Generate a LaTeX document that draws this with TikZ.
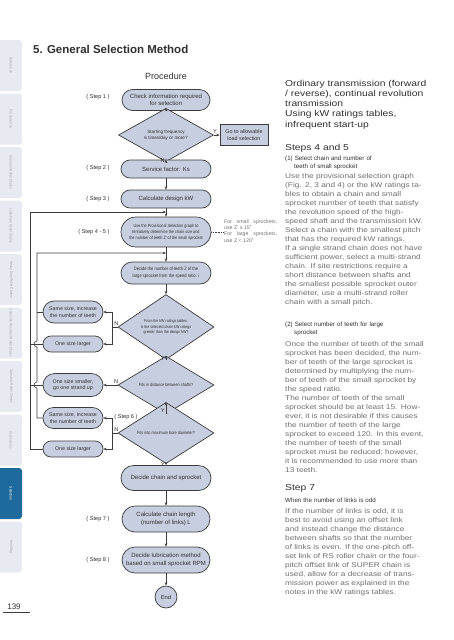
\documentclass[tikz,border=0pt]{standalone}
\usepackage{fontspec}
\setmainfont{Liberation Sans}
\newfontfamily\narrowfont[FakeStretch=0.85]{Liberation Sans}
\newfontfamily\widefont[FakeStretch=1.2]{Liberation Sans}
\usetikzlibrary{shapes.geometric,arrows.meta,calc}

\definecolor{boxfill}{HTML}{C6CEE0}
\definecolor{lineclr}{HTML}{3C3C3C}
\definecolor{tabfill}{HTML}{E7EAF0}
\definecolor{tabtext}{HTML}{A0A6B0}
\definecolor{tabsel}{HTML}{1F6A9C}
\definecolor{bodytext}{HTML}{707070}
\definecolor{headtext}{HTML}{303030}

\newcommand\fsz[2]{\fontsize{#1}{#2}\selectfont}
\newlength\colw
\setlength\colw{161pt}
\newcommand\jl[1]{\makebox[\colw][s]{#1}\\}

\tikzset{
  stad/.style 2 args={draw=lineclr, line width=0.7pt, fill=boxfill, rectangle, minimum height=#1, rounded corners=#2, inner sep=0pt, align=center, text=headtext, font=\fsz{6}{7.2}},
  decis/.style={draw=lineclr, line width=0.7pt, fill=boxfill, diamond, inner sep=0pt, align=center, text=headtext, font=\narrowfont\fsz{4.5}{5.4}},
  steplbl/.style={anchor=east, text=headtext, font=\fsz{5.6}{6.5}},
  yn/.style={text=headtext, font=\fsz{5.6}{6.5}, inner sep=1pt},
  flow/.style={draw=lineclr, line width=0.6pt},
  col/.style={anchor=base west, inner sep=0pt, align=left, text width=\colw},
  bodycol/.style={col, font=\widefont\fsz{6.9}{9}, text=bodytext},
  subcol/.style={col, font=\fsz{6.2}{8}, text=headtext},
  headcol/.style={col, font=\widefont\fsz{8.6}{10.3}, text=headtext},
}

\begin{document}
\begin{tikzpicture}[x=1pt, y=-1pt, >={Stealth[length=3.2pt,width=2.6pt]}]
\useasboundingbox (0,0) rectangle (453,640);
\fill[white] (0,0) rectangle (453,640);

% side tabs
\foreach \tabname [count=\i] in {Before Use,For Safe Use,Standard Roller Chains,Lube-Free Roller Chains,Heavy Duty Roller Chains,Corrosion Resistant Roller Chains,Specialty Roller Chains,Accessories,Selection,Handling}{
  \pgfmathsetmacro\ta{40+(\i-1)*53.5}
  \pgfmathsetmacro\tb{\ta+51}
  \ifnum\i=9 \def\tabclr{tabsel}\def\txtclr{white}\else\def\tabclr{tabfill}\def\txtclr{tabtext}\fi
  \fill[\tabclr, rounded corners=3pt] (-5,\ta) rectangle (22,\tb);
  \node[rotate=-90, text=\txtclr, font=\narrowfont\fsz{3.8}{4.5}] (tab\i) at (11,{(\ta+\tb)/2}) {\tabname};
}
\node[font=\fsz{8}{9}, text=headtext] (pg) at (14,607) {139};
\draw[lineclr, line width=0.4pt] (3,612.5) -- (30,612.5);

\node[anchor=base west, font=\bfseries\fsz{11.5}{13}, text=headtext, inner sep=0pt] (title) at (33,53) {5. General Selection Method};
\node[font=\fsz{9}{10}, text=headtext] (head) at (166,76) {Procedure};

% flow chart
\node[stad={21pt}{10.5pt}, minimum width=88pt] (chk) at (166,100) {Check information required\\for selection};
\node[decis, minimum width=95pt, minimum height=30pt, font=\fsz{4.6}{5.8}] (freq) at (166,135) {Starting frequency\\6 times/day or more?};
\node[draw=lineclr, line width=0.7pt, fill=boxfill, minimum width=48pt, minimum height=21pt, inner sep=0pt, align=center, text=headtext, font=\fsz{5.4}{6.4}] (goto) at (244,135) {Go to allowable\\load selection};
\node[stad={18pt}{9pt}, minimum width=90pt] (ks) at (166,169) {Service factor: Ks};
\node[stad={18pt}{9pt}, minimum width=90pt] (kw) at (166,199) {Calculate design kW};
\node[stad={30pt}{15pt}, minimum width=90pt, font=\narrowfont\fsz{4.5}{6}] (prov) at (166,232) {Use the Provisional Selection graph to\\tentatively determine the chain size and\\the number of teeth Z' of the small sprocket};
\node[stad={22pt}{11pt}, minimum width=90pt, font=\narrowfont\fsz{4.8}{6.6}] (bigz) at (166,273) {Decide the number of teeth Z of the\\large sprocket from the speed ratio: i};
\node[decis, minimum width=96pt, minimum height=49pt, font=\narrowfont\fsz{4.2}{5.4}] (rate) at (166,327) {From the kW ratings tables,\\is the selected chain kW ratings\\greater than the design kW?};
\node[decis, minimum width=96pt, minimum height=35pt] (dist) at (166,385) {Fits in distance between shafts?};
\node[decis, minimum width=96pt, minimum height=34pt] (bore) at (166,433) {Fits into maximum bore diameter?};
\node[stad={25pt}{12.5pt}, minimum width=90pt] (decide) at (166,478) {Decide chain and sprocket};
\node[stad={26pt}{13pt}, minimum width=88pt] (len) at (166,519) {Calculate chain length\\(number of links) L};
\node[stad={26pt}{13pt}, minimum width=88pt] (lube) at (166,560) {Decide lubrication method\\based on small sprocket RPM};
\node[draw=lineclr, line width=0.7pt, fill=boxfill, circle, minimum size=22pt, inner sep=0pt, text=headtext, font=\fsz{5.8}{6.8}] (fin) at (166,597) {End};

\node[stad={22pt}{11pt}, minimum width=60pt, font=\fsz{5.3}{6.4}] (incA) at (73,312) {Same size, increase\\the number of teeth};
\node[stad={16pt}{8pt}, minimum width=60pt, font=\fsz{5.3}{6.4}] (lgA) at (73,344) {One size larger};
\node[stad={23pt}{11.5pt}, minimum width=60pt, font=\fsz{5.3}{6.4}] (small) at (73,385) {One size smaller,\\go one strand up};
\node[stad={21pt}{10.5pt}, minimum width=60pt, font=\fsz{5.3}{6.4}] (incB) at (73,418) {Same size, increase\\the number of teeth};
\node[stad={16pt}{8pt}, minimum width=60pt, font=\fsz{5.3}{6.4}] (lgB) at (73,449) {One size larger};

\node[anchor=west, align=left, inner sep=0pt, text=bodytext, font=\fsz{5.2}{6.2}] (note) at (224,231) {\makebox[53pt][s]{For small sprockets,}\\use Z' ≥ 15\textsuperscript{†}\\\makebox[53pt][s]{For large sprockets,}\\use Z < 120\textsuperscript{†}};

\node[steplbl] (s1) at (113,97) {( Step 1 )};
\node[steplbl] (s2) at (113,168) {( Step 2 )};
\node[steplbl] (s3) at (113,199) {( Step 3 )};
\node[steplbl] (s45) at (113,232) {( Step 4 - 5 )};
\node[steplbl, anchor=center] (s6) at (126,417) {( Step 6 )};
\node[steplbl] (s7) at (113,519) {( Step 7 )};
\node[steplbl] (s8) at (113,560) {( Step 8 )};

\coordinate (brA) at (112,327);
\coordinate (brB) at (112,433);
\coordinate (outer) at (30,212);
\coordinate (inner) at (37,253);

\draw[flow,->] (chk) -- (freq);
\draw[flow,->] (freq) -- node[yn, left, pos=0.45] {N} (ks);
\draw[flow,->] (freq) -- node[yn, above, pos=0.2] {Y} (goto);
\draw[flow,->] (ks) -- (kw);
\draw[flow,->] (kw) -- (prov);
\draw[flow,->] (prov) -- (bigz);
\draw[flow,->] (bigz) -- (rate);
\draw[flow,->] (rate) -- node[yn, left, pos=0.35] {Y} (dist);
\draw[flow,->] (dist) -- node[yn, left, pos=0.3] {Y} (bore);
\draw[flow,->] (bore) -- node[yn, left, pos=0.3] {Y} (decide);
\draw[flow,->] (decide) -- (len);
\draw[flow,->] (len) -- (lube);
\draw[flow,->] (lube) -- (fin);
\draw[flow, densely dotted] (prov.east) -- (prov.east -| note.west);

\draw[flow] (rate.west) -- node[yn, above, pos=0.2] {N} (brA);
\draw[flow,->] (brA) |- (incA.east);
\draw[flow,->] (brA) |- (lgA.east);
\draw[flow,->] (dist.west) -- node[yn, above, pos=0.1] {N} (small.east);
\draw[flow] (bore.west) -- node[yn, above, pos=0.2] {N} (brB);
\draw[flow,->] (brB) |- (incB.east);
\draw[flow,->] (brB) |- (lgB.east);

\draw[flow,->] (lgB.west) -| (outer) -- (outer -| kw.south);
\draw[flow] (lgA.west) -- (lgA.west -| outer);
\draw[flow] (small.west) -- (small.west -| outer);
\draw[flow,->] (incB.west) -- (incB.west -| inner) -- ($(inner |- small.west)+(0,3)$) arc[start angle=90, end angle=270, radius=3] -- ($(inner |- lgA.west)+(0,3)$) arc[start angle=90, end angle=270, radius=3] -- (inner) -- (inner -| bigz.north);
\draw[flow] (incA.west) -- (incA.west -| inner);

% right column
\node[headcol] (intro) at (285,86) {\jl{Ordinary transmission (forward}\jl{/ reverse), continual revolution}transmission\\\jl{Using kW ratings tables,}infrequent start-up};
\node[headcol] (st45) at (285,150) {Steps 4 and 5};
\node[subcol] (sub1) at (285,160) {(1) Select chain and number of\\\hspace*{9pt}teeth of small sprocket};
\node[bodycol] (para1) at (285,178) {\jl{Use the provisional selection graph}\jl{(Fig. 2, 3 and 4) or the kW ratings ta-}\jl{bles to obtain a chain and small}\jl{sprocket number of teeth that satisfy}\jl{the revolution speed of the high-}\jl{speed shaft and the transmission kW.}\jl{Select a chain with the smallest pitch}that has the required kW ratings.\\\jl{If a single strand chain does not have}\jl{sufficient power, select a multi-strand}\jl{chain. If site restrictions require a}\jl{short distance between shafts and}\jl{the smallest possible sprocket outer}\jl{diameter, use a multi-strand roller}chain with a small pitch.};
\node[subcol] (sub2) at (285,326) {(2) Select number of teeth for large\\\hspace*{9pt}sprocket};
\node[bodycol] (para2) at (285,346) {\jl{Once the number of teeth of the small}\jl{sprocket has been decided, the num-}\jl{ber of teeth of the large sprocket is}\jl{determined by multiplying the num-}\jl{ber of teeth of the small sprocket by}the speed ratio.\\\jl{The number of teeth of the small}\jl{sprocket should be at least 15. How-}\jl{ever, it is not desirable if this causes}\jl{the number of teeth of the large}\jl{sprocket to exceed 120. In this event,}\jl{the number of teeth of the small}\jl{sprocket must be reduced; however,}\jl{it is recommended to use more than}13 teeth.};
\node[headcol] (st7) at (285,490) {Step 7};
\node[subcol] (sub3) at (285,502) {When the number of links is odd};
\node[bodycol] (para3) at (285,513) {\jl{If the number of links is odd, it is}\jl{best to avoid using an offset link}\jl{and instead change the distance}\jl{between shafts so that the number}\jl{of links is even. If the one-pitch off-}\jl{set link of RS roller chain or the four-}\jl{pitch offset link of SUPER chain is}\jl{used, allow for a decrease of trans-}\jl{mission power as explained in the}notes in the kW ratings tables.};
\end{tikzpicture}
\end{document}
